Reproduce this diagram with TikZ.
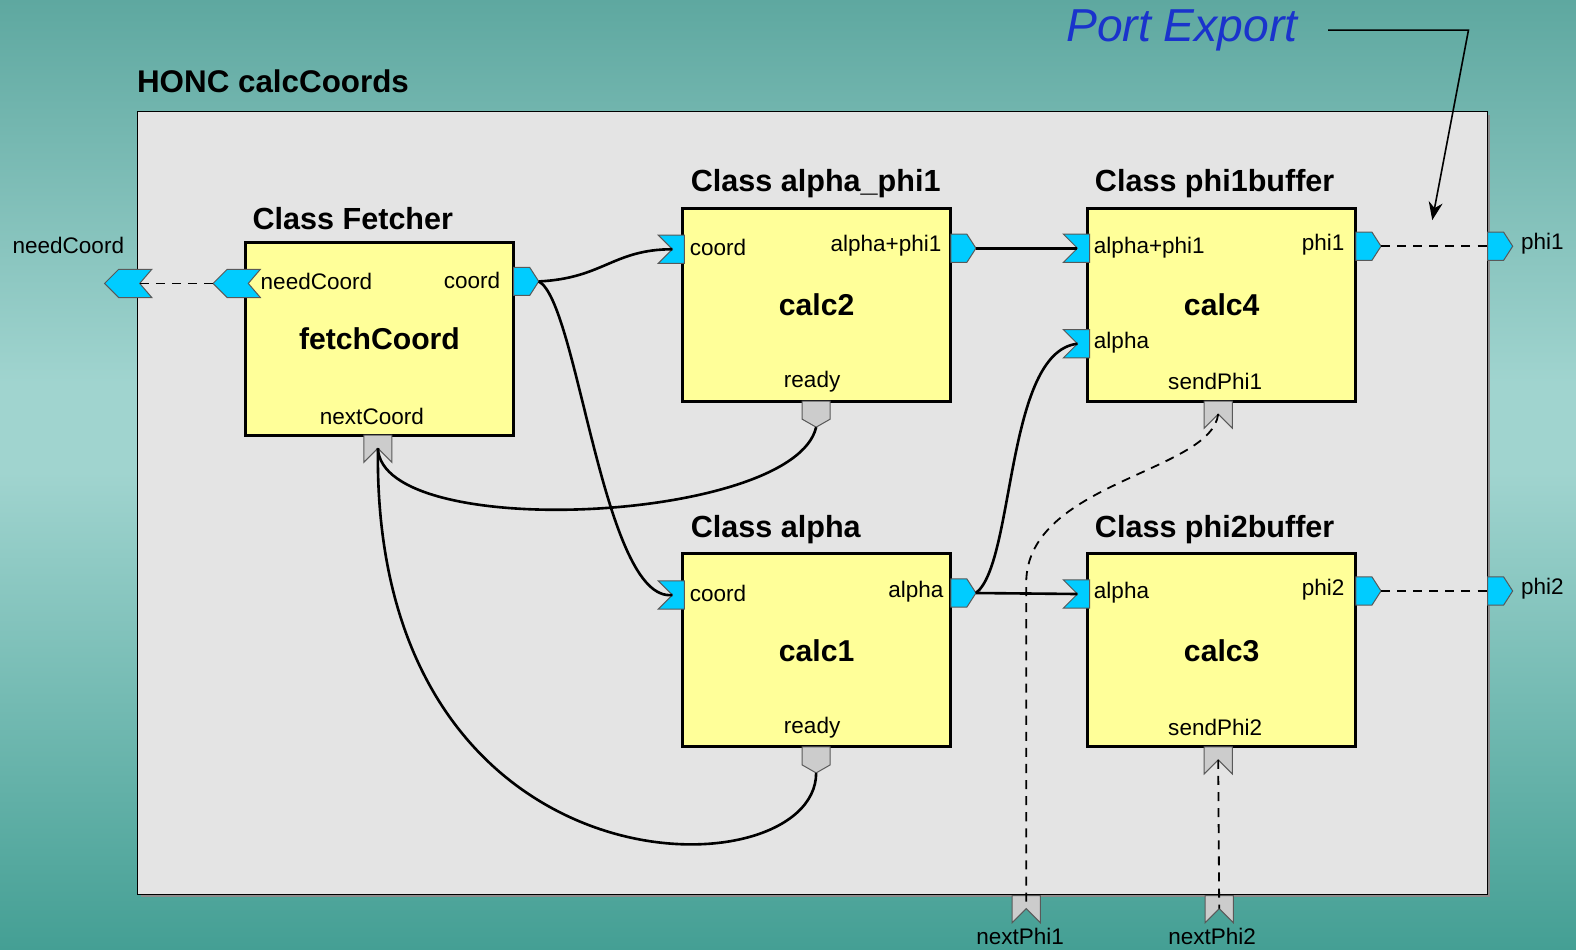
\documentclass[tikz,border=0pt]{standalone}
\usepackage{fontspec}
\setmainfont{Liberation Sans}
\usetikzlibrary{arrows.meta, positioning, calc}
\definecolor{honcTop}{HTML}{5EA8A0}
\definecolor{honcMid}{HTML}{A0D4CF}
\definecolor{honcBot}{HTML}{449F94}
\definecolor{honcPane}{HTML}{E4E4E4}
\definecolor{honcCard}{HTML}{FFFF99}
\definecolor{honcCyan}{HTML}{00CCFF}
\definecolor{honcPort}{HTML}{CCCCCC}
\definecolor{honcBlue}{HTML}{1A33CC}

\begin{document}
\begin{tikzpicture}[x=0.5pt,y=-0.5pt,
  card/.style={draw=black,line width=1.5pt,fill=honcCard,minimum width=133.5pt,minimum height=96pt,inner sep=0pt,font=\fontsize{15}{18}\selectfont\bfseries},
  classname/.style={anchor=west,inner sep=0pt,font=\fontsize{15.2}{18}\selectfont\bfseries},
  plabel/.style={inner sep=0pt,font=\fontsize{11.2}{13}\selectfont},
  cyanport/.style={fill=honcCyan,draw=black!65,line width=0.5pt},
  grayport/.style={fill=honcPort,draw=black!65,line width=0.5pt},
  wire/.style={line width=1.3pt,black},
  dashwire/.style={line width=0.9pt,black,dash pattern=on 4.5pt off 3.5pt}]
\useasboundingbox (0,0) rectangle (1568,945);
\shade[top color=honcTop,bottom color=honcMid] (0,0) rectangle (1568,381);
\fill[honcMid] (0,380) rectangle (1568,471);
\shade[top color=honcMid,bottom color=honcBot] (0,470) rectangle (1568,945);
\fill[black!45] (140,114) rectangle (1482,892);
\draw[fill=honcPane,draw=black,line width=0.5pt] (137,111) rectangle (1480,890);
\node[classname,font=\fontsize{15.6}{18}\selectfont\bfseries] at (136,81) {HONC calcCoords};

\newcommand{\inport}[3]{%
  \draw[cyanport] (#2-24,#3-14) -- (#2+2,#3-14) -- (#2+2,#3+14) -- (#2-24,#3+14) -- (#2-10,#3) -- cycle;
  \coordinate (#1) at (#2-10,#3);
}
\newcommand{\outport}[3]{%
  \draw[cyanport] (#2,#3-14) -- (#2+16,#3-14) -- (#2+25,#3) -- (#2+16,#3+14) -- (#2,#3+14) -- cycle;
  \coordinate (#1) at (#2+25,#3);
  \coordinate (#1-base) at (#2,#3);
}
\newcommand{\backport}[3]{%
  \draw[cyanport] (#2,#3) -- (#2+14,#3-14) -- (#2+47,#3-14) -- (#2+35,#3) -- (#2+47,#3+14) -- (#2+14,#3+14) -- cycle;
  \coordinate (#1) at (#2,#3);
  \coordinate (#1-notch) at (#2+35,#3);
}
\newcommand{\downport}[3]{%
  \draw[grayport] (#2-14,#3) -- (#2+14,#3) -- (#2+14,#3+18) -- (#2,#3+26) -- (#2-14,#3+18) -- cycle;
  \coordinate (#1) at (#2,#3+26);
}
\newcommand{\upport}[3]{%
  \draw[grayport] (#2-14,#3) -- (#2+14,#3) -- (#2+14,#3+27) -- (#2,#3+13) -- (#2-14,#3+27) -- cycle;
  \coordinate (#1) at (#2,#3+13);
}

\node[card] (fetch) at (377.5,337) {fetchCoord};
\node[card] (calc2) at (812.5,303) {calc2};
\node[card] (calc4) at (1215.5,303) {calc4};
\node[card] (calc1) at (812.5,647) {calc1};
\node[card] (calc3) at (1215.5,647) {calc3};

\node[classname] (t-fetch) at (251,217) {Class Fetcher};
\node[classname] (t-calc2) at (687,183) {Class alpha\_phi1};
\node[classname] (t-calc4) at (1089,183) {Class phi1buffer};
\node[classname] (t-calc1) at (687,527) {Class alpha};
\node[classname] (t-calc3) at (1089,527) {Class phi2buffer};

\backport{fc-need}{212}{282}
\outport{fc-coord}{511}{280}
\upport{fc-next}{376}{433}
\inport{c2-coord}{679}{248}
\outport{c2-out}{946}{247}
\downport{c2-ready}{812}{399}
\inport{c4-in}{1082}{247}
\inport{c4-alpha}{1082}{342}
\outport{c4-phi}{1349}{245}
\upport{c4-send}{1212}{399}
\inport{c1-coord}{679}{592}
\outport{c1-alpha}{946}{590}
\downport{c1-ready}{812}{743}
\inport{c3-alpha}{1082}{591}
\outport{c3-phi}{1349}{588}
\upport{c3-send}{1212}{743}
\backport{x-need}{104}{282}
\outport{x-phi1}{1480}{245}
\outport{x-phi2}{1480}{588}
\upport{x-next1}{1021}{891}
\upport{x-next2}{1213}{891}

\node[plabel,anchor=west] at (259,280) {needCoord};
\node[plabel,anchor=east] at (498,279) {coord};
\node[plabel] at (370,414) {nextCoord};
\node[plabel,anchor=west] at (686,246) {coord};
\node[plabel,anchor=east] at (937,244) {alpha+phi1};
\node[plabel] at (808,380) {ready};
\node[plabel,anchor=west] at (1088,246) {alpha+phi1};
\node[plabel,anchor=east] at (1338,243) {phi1};
\node[plabel,anchor=west] at (1088,341) {alpha};
\node[plabel] at (1209,380) {sendPhi1};
\node[plabel,anchor=west] at (686,590) {coord};
\node[plabel,anchor=east] at (939,589) {alpha};
\node[plabel] at (808,724) {ready};
\node[plabel,anchor=west] at (1088,590) {alpha};
\node[plabel,anchor=east] at (1338,587) {phi2};
\node[plabel] at (1209,724) {sendPhi2};
\node[plabel] at (68,244) {needCoord};
\node[plabel,anchor=west] at (1513,242) {phi1};
\node[plabel,anchor=west] at (1513,586) {phi2};
\node[plabel] at (1015,932) {nextPhi1};
\node[plabel] at (1206,932) {nextPhi2};

\draw[wire] (fc-coord) .. controls (600,277) and (610,248) .. (c2-coord);
\draw[wire] (fc-coord) .. controls (575,300) and (600,600) .. (c1-coord);
\draw[wire] (c2-ready) .. controls (790,520) and (380,540) .. (fc-next);
\draw[wire] (c1-ready) .. controls (812,890) and (370,900) .. (fc-next);
\draw[wire] (c1-alpha) .. controls (1010,560) and (1000,350) .. (c4-alpha);
\draw[wire] (c1-alpha) -- (c3-alpha);
\draw[wire] (c2-out) -- (c4-in);
\draw[dashwire] (x-need-notch) -- (fc-need);
\draw[dashwire] (c4-phi) -- (x-phi1-base);
\draw[dashwire] (c3-phi) -- (x-phi2-base);
\draw[dashwire] (c4-send) .. controls (1205,470) and (1021,480) .. (1021,580) -- (x-next1);
\draw[dashwire] (c3-send) -- (x-next2);

\node[font=\fontsize{23}{28}\selectfont\itshape,text=honcBlue,inner sep=0pt] (export) at (1176,30) {Port Export};
\coordinate (exp-bend) at (1461,30);
\coordinate (exp-tip) at (1425,219);
\draw[line width=0.8pt,-{Stealth[length=9pt,width=7pt]}] ([xshift=15pt]export.east) -- (exp-bend) -- (exp-tip);
\end{tikzpicture}
\end{document}
